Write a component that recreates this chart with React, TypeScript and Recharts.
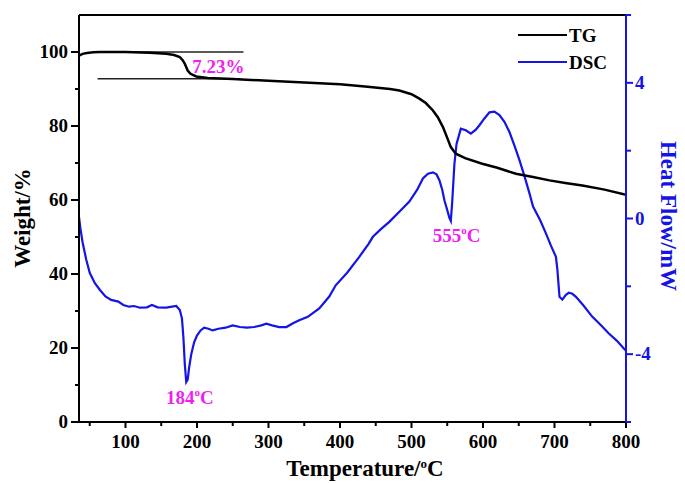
import { LineChart, Line, XAxis, YAxis, ReferenceLine, ReferenceDot } from 'recharts';

const tgTemp = [35, 40, 46, 55, 64, 100, 134, 157, 168, 176, 180, 183, 187, 191, 199, 215, 250, 300, 343, 400, 435, 470, 483, 500, 511, 520, 530, 537, 544, 550, 555, 562, 575, 599, 620, 646, 670, 693, 715, 739, 770, 800];
const tgWeight = [99.0, 99.5, 99.7, 99.9, 100, 100, 99.8, 99.5, 99.2, 98.6, 97.8, 96.8, 95.0, 94.1, 93.4, 93.0, 92.7, 92.2, 91.8, 91.3, 90.7, 90.0, 89.6, 88.6, 87.4, 86.2, 84.2, 82.3, 79.7, 76.8, 74.3, 72.5, 71.3, 69.8, 68.7, 67.1, 66.2, 65.3, 64.6, 63.9, 62.8, 61.4];

const dscTemp = [35, 37, 40, 45, 50, 57, 64, 72, 80, 90, 97, 105, 112, 120, 130, 137, 145, 157, 165, 171, 176, 179, 181, 183, 185, 187, 189, 192, 196, 200, 205, 210, 216, 222, 230, 240, 250, 260, 270, 280, 290, 297, 305, 315, 325, 335, 343, 355, 371, 385, 394, 410, 427, 440, 446, 458, 469, 483, 497, 508, 516, 523, 530, 535, 539, 543, 546, 550, 553, 555, 557, 560, 563, 569, 576, 583, 590, 595, 602, 609, 616, 623, 630, 637, 644, 651, 658, 665, 670, 680, 688, 695, 702, 704, 707, 711, 716, 720, 725, 730, 740, 753, 765, 776, 787, 797, 800];
const dscHeat = [0.05, -0.3, -0.7, -1.2, -1.6, -1.9, -2.1, -2.3, -2.4, -2.45, -2.55, -2.6, -2.58, -2.63, -2.62, -2.55, -2.62, -2.63, -2.6, -2.58, -2.7, -2.95, -3.5, -4.3, -4.82, -4.75, -4.4, -4.0, -3.65, -3.45, -3.3, -3.22, -3.25, -3.3, -3.25, -3.22, -3.15, -3.2, -3.22, -3.2, -3.15, -3.1, -3.15, -3.2, -3.2, -3.08, -3.0, -2.9, -2.65, -2.3, -1.97, -1.6, -1.13, -0.75, -0.54, -0.3, -0.1, 0.2, 0.5, 0.85, 1.18, 1.32, 1.36, 1.3, 1.13, 0.85, 0.54, 0.25, 0.02, -0.07, 0.5, 1.6, 2.2, 2.65, 2.6, 2.5, 2.62, 2.75, 2.95, 3.13, 3.15, 3.05, 2.85, 2.55, 2.15, 1.72, 1.25, 0.74, 0.35, -0.05, -0.44, -0.8, -1.13, -1.5, -2.31, -2.39, -2.25, -2.19, -2.22, -2.31, -2.55, -2.9, -3.15, -3.39, -3.6, -3.83, -3.9];

const xTicks = [50, 100, 150, 200, 250, 300, 350, 400, 450, 500, 550, 600, 650, 700, 750, 800];
const weightTicks = [0, 10, 20, 30, 40, 50, 60, 70, 80, 90, 100];
const heatTicks = [-6, -4, -2, 0, 2, 4, 6];

// weight-loss step markers
const stepUpper = [64, 265];
const stepLower = [61, 260];
const stepLevels = [100, 92.77];
const stepLabel = '7.23%';

const peakTemps = [184, 555];
const peakLabelPos = [
  { t: 190, h: -5.25 },
  { t: 563, h: -0.5 },
];

const FONT = '"Liberation Serif", "Times New Roman", serif';
const BLUE = '#1414e6';
const MAGENTA = '#f01ef0';

const tgData = tgTemp.map((t, i) => ({ t, w: tgWeight[i] }));
const dscData = dscTemp.map((t, i) => ({ t, h: dscHeat[i] }));

function XTick({ x, y, payload }: any) {
  const major = payload.value % 100 === 0;
  return (
    <g>
      <line x1={x} x2={x} y1={y} y2={y + (major ? 6 : 4)} stroke="#000" strokeWidth={2} />
      {major && (
        <text x={x} y={y + 26} textAnchor="middle" fontFamily={FONT} fontWeight="bold" fontSize={19} fill="#000">
          {payload.value}
        </text>
      )}
    </g>
  );
}

function LeftTick({ x, y, payload }: any) {
  const major = payload.value % 20 === 0;
  return (
    <g>
      <line x1={x} x2={x - (major ? 8 : 4)} y1={y} y2={y} stroke="#000" strokeWidth={2} />
      {major && (
        <text x={x - 11} y={y + 6} textAnchor="end" fontFamily={FONT} fontWeight="bold" fontSize={19} fill="#000">
          {payload.value}
        </text>
      )}
    </g>
  );
}

function RightTick({ x, y, payload }: any) {
  const major = payload.value % 4 === 0 && Math.abs(payload.value) < 6;
  return (
    <g>
      <line x1={x} x2={x + (major ? 7 : 5)} y1={y} y2={y} stroke={BLUE} strokeWidth={2} />
      {major && (
        <text x={x + 9} y={y + 6} textAnchor="start" fontFamily={FONT} fontWeight="bold" fontSize={19} fill={BLUE}>
          {payload.value}
        </text>
      )}
    </g>
  );
}

function PeakText({ cx, cy, temp }: any) {
  return (
    <text x={cx} y={cy + 7} textAnchor="middle" fontFamily={FONT} fontWeight="bold" fontSize={19} fill={MAGENTA}>
      {temp}
      <tspan dy={-8} fontSize={11}>o</tspan>
      <tspan dy={8}>C</tspan>
    </text>
  );
}

function StepText({ cx, cy }: any) {
  return (
    <text x={cx} y={cy + 7} textAnchor="middle" fontFamily={FONT} fontWeight="bold" fontSize={19} fill={MAGENTA}>
      {stepLabel}
    </text>
  );
}

function LegendBox() {
  const rows = [
    { name: 'TG', color: '#000' },
    { name: 'DSC', color: BLUE },
  ];
  return (
    <svg width={100} height={50} style={{ position: 'absolute', left: 518, top: 26 }}>
      {rows.map((r, i) => (
        <g key={r.name}>
          <line x1={0} x2={49} y1={9 + i * 27} y2={9 + i * 27} stroke={r.color} strokeWidth={2} />
          <text x={51} y={16 + i * 27} fontFamily={FONT} fontWeight="bold" fontSize={19} fill="#000">
            {r.name}
          </text>
        </g>
      ))}
    </svg>
  );
}

export default function App() {
  return (
    <div style={{ position: 'absolute', left: 0, top: 0, width: 685, height: 483, background: '#fff' }}>
      <LineChart width={685} height={483} margin={{ top: 15, right: 19, bottom: 31, left: 29 }}>
        <XAxis
          type="number"
          dataKey="t"
          domain={[35, 800]}
          ticks={xTicks}
          allowDataOverflow
          height={30}
          stroke="#000"
          strokeWidth={2}
          tickLine={false}
          tickSize={0}
          tickMargin={0}
          tick={<XTick />}
          interval={0}
        />
        <YAxis
          yAxisId="w"
          domain={[0, 110]}
          ticks={weightTicks}
          width={50}
          stroke="#000"
          strokeWidth={2}
          tickLine={false}
          tickSize={0}
          tickMargin={0}
          tick={<LeftTick />}
          interval={0}
        />
        <YAxis
          yAxisId="h"
          orientation="right"
          domain={[-6, 6]}
          ticks={heatTicks}
          width={40}
          stroke={BLUE}
          strokeWidth={2}
          tickLine={false}
          tickSize={0}
          tickMargin={0}
          tick={<RightTick />}
          interval={0}
        />
        <ReferenceLine yAxisId="w" y={110} stroke="#000" strokeWidth={2} />
        <ReferenceLine
          yAxisId="w"
          segment={[{ x: stepUpper[0], y: stepLevels[0] }, { x: stepUpper[1], y: stepLevels[0] }]}
          stroke="#222"
          strokeWidth={1.5}
        />
        <ReferenceLine
          yAxisId="w"
          segment={[{ x: stepLower[0], y: stepLevels[1] }, { x: stepLower[1], y: stepLevels[1] }]}
          stroke="#222"
          strokeWidth={1.5}
        />
        <Line
          yAxisId="h"
          data={dscData}
          dataKey="h"
          name="DSC"
          stroke={BLUE}
          strokeWidth={2.2}
          dot={false}
          isAnimationActive={false}
        />
        <Line
          yAxisId="w"
          data={tgData}
          dataKey="w"
          name="TG"
          stroke="#000"
          strokeWidth={2.5}
          dot={false}
          isAnimationActive={false}
        />
        <ReferenceDot yAxisId="w" x={230} y={96.1} r={1} shape={(p: any) => <StepText {...p} />} />
        {peakTemps.map((temp, i) => (
          <ReferenceDot
            key={temp}
            yAxisId="h"
            x={peakLabelPos[i].t}
            y={peakLabelPos[i].h}
            r={1}
            shape={(p: any) => <PeakText {...p} temp={temp} />}
          />
        ))}
      </LineChart>
      <LegendBox />
      <div
        style={{
          position: 'absolute', left: 23, top: 218, transform: 'translate(-50%, -50%) rotate(-90deg)',
          fontFamily: FONT, fontWeight: 'bold', fontSize: 23, whiteSpace: 'nowrap', color: '#000',
        }}
      >
        Weight/%
      </div>
      <div
        style={{
          position: 'absolute', left: 668, top: 216, transform: 'translate(-50%, -50%) rotate(90deg)',
          fontFamily: FONT, fontWeight: 'bold', fontSize: 23, whiteSpace: 'nowrap', color: BLUE,
        }}
      >
        Heat Flow/mW
      </div>
      <div
        style={{
          position: 'absolute', left: 365, top: 469, transform: 'translate(-50%, -50%)',
          fontFamily: FONT, fontWeight: 'bold', fontSize: 23, whiteSpace: 'nowrap', color: '#000',
        }}
      >
        Temperature/<sup style={{ fontSize: 13 }}>o</sup>C
      </div>
    </div>
  );
}
